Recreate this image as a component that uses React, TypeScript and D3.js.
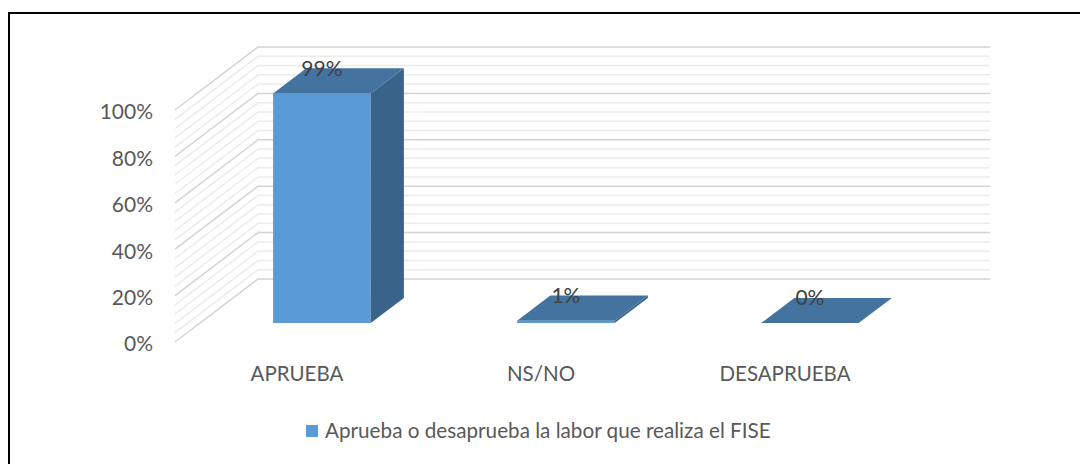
import React from "react";
import * as d3 from "d3";

const categories = ["APRUEBA", "NS/NO", "DESAPRUEBA"];
const values = [0.99, 0.01, 0.0];
const dataLabels = ["99%", "1%", "0%"];
const yTicks = [0, 0.2, 0.4, 0.6, 0.8, 1.0];
const yTickLabels = ["0%", "20%", "40%", "60%", "80%", "100%"];
const seriesName = "Aprueba o desaprueba la labor que realiza el FISE";

const W = 1080;
const H = 464;
const FONT = "Lato, 'Open Sans', sans-serif";
const TEXT = "#595959";

// 3D geometry
const frontLeft = 175;
const frontRight = 907;
const frontBase = 342;
const plotH = 232;
const depthDx = 83;
const depthDy = -63;
const barD0 = 0.3;
const barD1 = 0.7;

const x = d3.scaleBand<string>().domain(categories).range([frontLeft, frontRight]).paddingInner(0.6).paddingOuter(0.3);
const y = d3.scaleLinear().domain([0, 1]).range([frontBase, frontBase - plotH]);

const P = (xf: number, v: number, d: number): [number, number] => [xf + d * depthDx, y(v) + d * depthDy];
const pts = (arr: [number, number][]) => arr.map((p) => p.join(",")).join(" ");

export default function App() {
  const minorTicks = d3.range(0, 26).map((i) => i / 25);
  const isMajor = (v: number) => Math.abs(v * 5 - Math.round(v * 5)) < 1e-6;
  const bw = x.bandwidth();

  return (
    <svg width={W} height={H} style={{ position: "absolute", left: 0, top: 0, background: "#fff" }} fontFamily={FONT}>
      <rect x={9} y={13} width={1200} height={600} fill="#fff" stroke="#000" strokeWidth={2} />
      {/* gridlines: minor first, major on top */}
      {[false, true].map((maj) =>
        minorTicks
          .filter((v) => isMajor(v) === maj)
          .map((v, i) => {
            const fl = P(frontLeft, v, 0);
            const bl = P(frontLeft, v, 1);
            const br = P(frontRight, v, 1);
            return (
              <polyline
                key={`${maj}-${i}`}
                points={pts([fl, bl, br])}
                fill="none"
                stroke={maj ? "#d4d4d4" : "#ececec"}
                strokeWidth={1.5}
              />
            );
          })
      )}
      {/* y tick labels */}
      {yTicks.map((t, i) => (
        <text key={t} x={153} y={y(t) + 2} dy="0.35em" textAnchor="end" fontSize={21} fill={TEXT}>
          {yTickLabels[i]}
        </text>
      ))}
      {/* bars */}
      {categories.map((c, i) => {
        const x0 = x(c)!;
        const x1 = x0 + bw;
        const v = values[i];
        const fbl = P(x0, 0, barD0);
        const fbr = P(x1, 0, barD0);
        const ftl = P(x0, v, barD0);
        const ftr = P(x1, v, barD0);
        const btl = P(x0, v, barD1);
        const btr = P(x1, v, barD1);
        const bbr = P(x1, 0, barD1);
        return (
          <g key={c}>
            <polygon points={pts([fbl, fbr, ftr, ftl])} fill="#5B9BD5" />
            <polygon points={pts([fbr, bbr, btr, ftr])} fill="#3A6389" />
            <polygon points={pts([ftl, ftr, btr, btl])} fill="#44739F" />
          </g>
        );
      })}
      {/* data labels */}
      {categories.map((c, i) => {
        const cx = x(c)! + bw / 2;
        const px = P(cx, values[i], barD0)[0];
        const py = P(cx, values[i], barD1)[1];
        return (
          <text key={c} x={px} y={py} dy="0.35em" textAnchor="middle" fontSize={21} fill="#404040">
            {dataLabels[i]}
          </text>
        );
      })}
      {/* category labels */}
      {categories.map((c) => (
        <text key={c} x={x(c)! + bw / 2} y={381} textAnchor="middle" fontSize={20.5} fill={TEXT}>
          {c}
        </text>
      ))}
      {/* legend */}
      <g>
        <rect x={306} y={425} width={12} height={12} fill="#5B9BD5" />
        <text x={325} y={438} fontSize={20.7} fill={TEXT}>
          {seriesName}
        </text>
      </g>
    </svg>
  );
}
